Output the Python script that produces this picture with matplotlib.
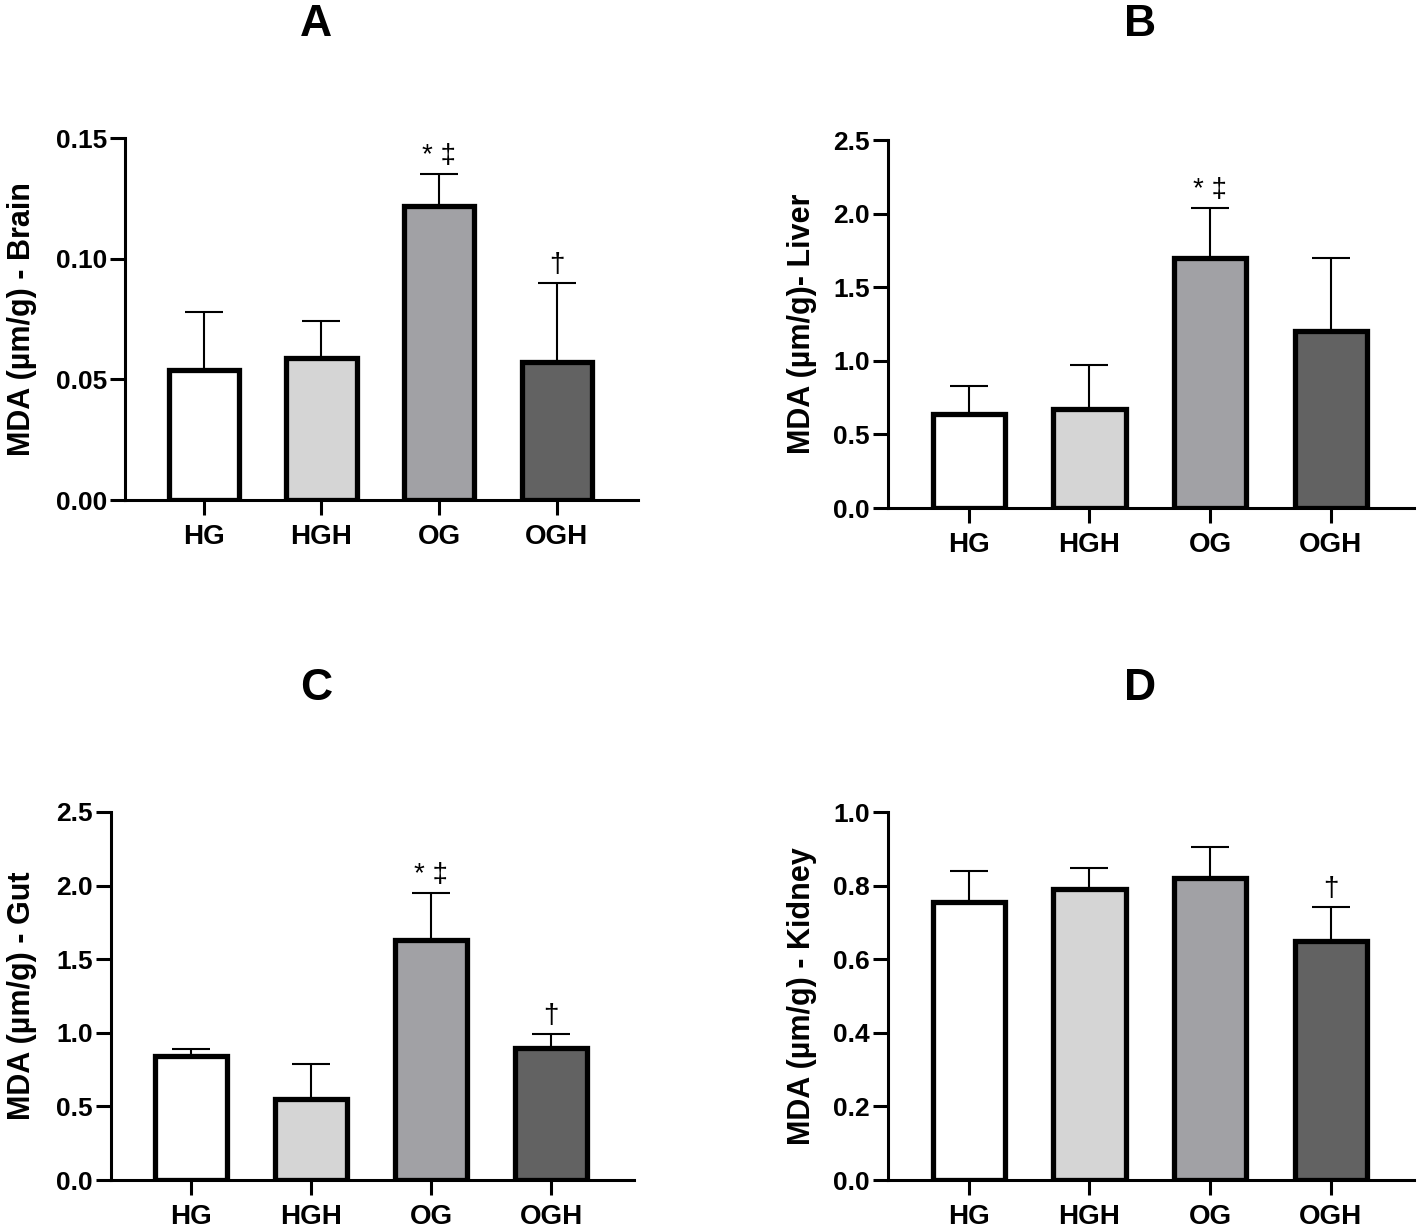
import matplotlib
matplotlib.use("Agg")
import matplotlib.pyplot as plt
import numpy as np

plt.rcParams['font.family'] = ['Liberation Sans', 'DejaVu Sans']

groups = ["HG", "HGH", "OG", "OGH"]
colors = ["#ffffff", "#d5d5d5", "#a1a1a5", "#626262"]

brain_mean = [0.054, 0.059, 0.122, 0.057]
brain_sd = [0.024, 0.015, 0.013, 0.033]
brain_marks = ["", "", "* \u2021", "\u2020"]

liver_mean = [0.64, 0.67, 1.70, 1.20]
liver_sd = [0.19, 0.30, 0.34, 0.50]
liver_marks = ["", "", "* \u2021", ""]

gut_mean = [0.84, 0.55, 1.63, 0.90]
gut_sd = [0.05, 0.24, 0.32, 0.09]
gut_marks = ["", "", "* \u2021", "\u2020"]

kidney_mean = [0.755, 0.79, 0.82, 0.65]
kidney_sd = [0.085, 0.058, 0.086, 0.093]
kidney_marks = ["", "", "", "\u2020"]

W, H = 1418, 1232
fig = plt.figure(figsize=(W / 100, H / 100), dpi=100)


def px_axes(left, right, top, bottom):
    return fig.add_axes([left / W, 1 - bottom / H, (right - left) / W, (bottom - top) / H])


panels = [
    dict(box=(125, 638, 138, 500), mean=brain_mean, sd=brain_sd, marks=brain_marks,
         ylim=0.15, ticks=np.arange(0, 0.151, 0.05), fmt="{:.2f}",
         ylabel="MDA (\u00b5m/g) - Brain", labx=-88, title="A", tpos=(316, 25)),
    dict(box=(888, 1414, 140, 508), mean=liver_mean, sd=liver_sd, marks=liver_marks,
         ylim=2.5, ticks=np.arange(0, 2.51, 0.5), fmt="{:.1f}",
         ylabel="MDA (\u00b5m/g)- Liver", labx=-71, title="B", tpos=(1140, 25)),
    dict(box=(111, 634, 812, 1180), mean=gut_mean, sd=gut_sd, marks=gut_marks,
         ylim=2.5, ticks=np.arange(0, 2.51, 0.5), fmt="{:.1f}",
         ylabel="MDA (\u00b5m/g) - Gut", labx=-74, title="C", tpos=(316, 688)),
    dict(box=(888, 1414, 812, 1180), mean=kidney_mean, sd=kidney_sd, marks=kidney_marks,
         ylim=1.0, ticks=np.arange(0, 1.01, 0.2), fmt="{:.1f}",
         ylabel="MDA (\u00b5m/g) - Kidney", labx=-71, title="D", tpos=(1140, 688)),
]

for p in panels:
    l, r, t, b = p["box"]
    ax = px_axes(l, r, t, b)
    x = np.arange(len(groups))
    mean = np.array(p["mean"])
    sd = np.array(p["sd"])
    ax.errorbar(x, mean, yerr=[np.zeros_like(sd), sd], fmt="none", ecolor="black",
                elinewidth=1.5, capsize=13.5, capthick=1.5, zorder=2, clip_on=False)
    ax.bar(x, mean, width=0.6, color=colors, edgecolor="black", linewidth=3.8, zorder=3)
    for xi, m, s, mk in zip(x, mean, sd, p["marks"]):
        if mk:
            ax.annotate(mk, xy=(xi, m + s), xytext=(0, 13), textcoords="offset points",
                        ha="center", va="center", fontsize=20, annotation_clip=False)
    ax.set_xlim(-0.67, 3.69)
    ax.set_ylim(0, p["ylim"])
    ax.set_yticks(p["ticks"])
    ax.set_yticklabels([p["fmt"].format(v) for v in p["ticks"]], fontsize=19, fontweight="bold")
    ax.set_xticks(x)
    ax.set_xticklabels(groups, fontsize=20, fontweight="bold")
    for s in ["top", "right"]:
        ax.spines[s].set_visible(False)
    for s in ["left", "bottom"]:
        ax.spines[s].set_linewidth(2.2)
    ax.tick_params(axis="both", width=2.2, length=11, color="black")
    ax.tick_params(axis="y", pad=2)
    ax.tick_params(axis="x", pad=6)
    ax.set_ylabel(p["ylabel"], fontsize=22, fontweight="bold")
    ax.yaxis.set_label_coords(p["labx"] / (r - l), 0.5)
    fig.text(p["tpos"][0] / W, 1 - p["tpos"][1] / H, p["title"], fontsize=32,
             fontweight="bold", ha="center", va="center")

fig.savefig("out.png", dpi=100, facecolor="white")
